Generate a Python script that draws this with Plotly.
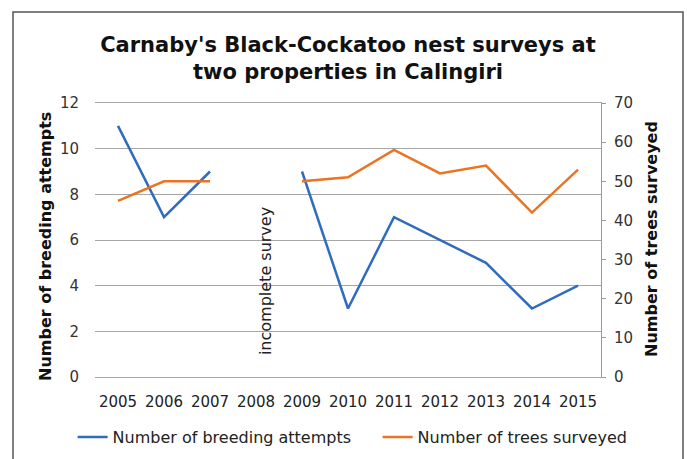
import plotly.graph_objects as go

years = ["2005", "2006", "2007", "2008", "2009", "2010", "2011", "2012", "2013", "2014", "2015"]
breeding_attempts = [11, 7, 9, None, 9, 3, 7, 6, 5, 3, 4]
trees_surveyed = [45, 50, 50, None, 50, 51, 58, 52, 54, 42, 53]

FONT = "DejaVu Sans"
BLUE = "#2f6cc0"
ORANGE = "#ea7421"
GRID = "#a6a6a6"

fig = go.Figure()
fig.add_trace(go.Scatter(x=years, y=breeding_attempts, mode="lines", name="Number of breeding attempts",
                         line=dict(color=BLUE, width=2.5), yaxis="y", connectgaps=False,
                         legend="legend"))
fig.add_trace(go.Scatter(x=years, y=trees_surveyed, mode="lines", name="Number of trees surveyed",
                         line=dict(color=ORANGE, width=2.5), yaxis="y2", connectgaps=False,
                         legend="legend2"))

legend_common = dict(orientation="h", xanchor="left", y=-(437 - 377) / 274, yanchor="middle",
                     font=dict(size=16, color="#222222"), bgcolor="rgba(0,0,0,0)")

fig.update_layout(
    width=687, height=459,
    margin=dict(l=95, r=86, t=103, b=82, autoexpand=False),
    paper_bgcolor="white", plot_bgcolor="white",
    font=dict(family=FONT, size=15, color="#222222"),
    title=dict(text="<b>Carnaby's Black-Cockatoo nest surveys at<br>two properties in Calingiri</b>",
               x=0.5, xref="paper", xanchor="center", y=1 - 52 / 459, yanchor="middle",
               font=dict(family=FONT, size=21, color="#111111")),
    xaxis=dict(type="category", categoryorder="array", categoryarray=years,
               range=[-0.5, len(years) - 0.5], autorange=False, tickangle=0,
               showgrid=False, showline=True, mirror=True, linecolor=GRID, linewidth=1,
               ticks="", zeroline=False, ticklabelstandoff=11,
               tickfont=dict(size=15, color="#222222")),
    yaxis=dict(range=[0, 12], dtick=2, showgrid=True, gridcolor=GRID, gridwidth=1,
               zeroline=False, showline=False, ticks="", ticklabelstandoff=15,
               tickfont=dict(size=15, color="#333333")),
    yaxis2=dict(range=[0, 70], dtick=10, overlaying="y", side="right", showgrid=False,
                zeroline=False, showline=True, linecolor="#9a9a9a", linewidth=1,
                ticks="outside", ticklen=4, tickcolor="#9a9a9a", ticklabelstandoff=5,
                tickfont=dict(size=15, color="#333333")),
    showlegend=True,
    legend=dict(x=(72.6 - 95) / 506, **legend_common),
    legend2=dict(x=(377.6 - 95) / 506, **legend_common),
)

fig.add_annotation(text="<b>Number of breeding attempts</b>", textangle=-90, xref="paper", yref="paper",
                   x=(45 - 95) / 506, xanchor="center", y=(377 - 247) / 274, yanchor="middle",
                   showarrow=False, font=dict(size=16, color="#111111"))
fig.add_annotation(text="<b>Number of trees surveyed</b>", textangle=-90, xref="paper", yref="paper",
                   x=(651 - 95) / 506, xanchor="center", y=(377 - 239) / 274, yanchor="middle",
                   showarrow=False, font=dict(size=16, color="#111111"))
fig.add_annotation(text="incomplete survey", textangle=-90, xref="x", yref="y",
                   x=3, y=4.2, xshift=9, showarrow=False, font=dict(size=16, color="#222222"))

fig.add_shape(type="rect", xref="paper", yref="paper", x0=(13 - 95) / 506, x1=(683 - 95) / 506,
              y0=-0.4, y1=(377 - 12) / 274, line=dict(color="#555555", width=1.5), layer="below")

fig.write_html("out.html")
